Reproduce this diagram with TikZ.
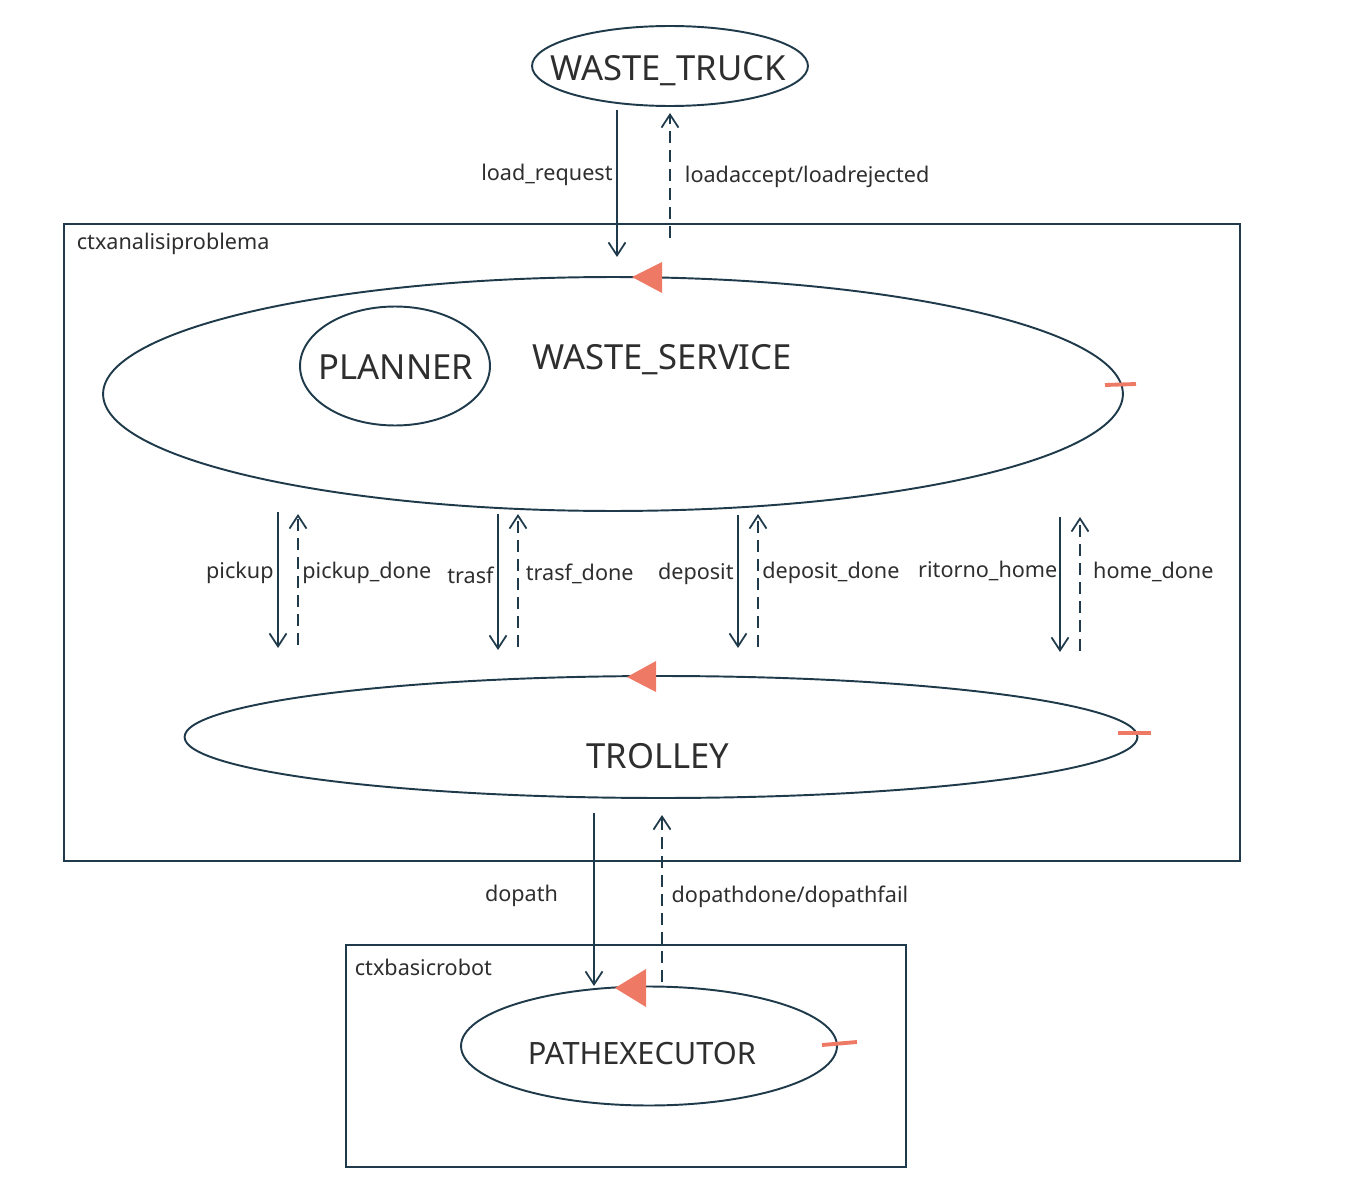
\documentclass[tikz,border=0pt]{standalone}
\usepackage{fontspec}
\setmainfont{Noto Sans}
\usepackage{tikz}
\usetikzlibrary{shapes.geometric}
\usetikzlibrary{arrows.meta}

\definecolor{linecol}{HTML}{1F3A4A}
\definecolor{markcol}{HTML}{EE7A66}
\definecolor{txtcol}{HTML}{2E2E2E}

\tikzset{
	actor/.style={ellipse,draw=linecol,line width=1.1pt,inner sep=0pt},
	ctxbox/.style={rectangle,draw=linecol,line width=1pt,inner sep=0pt},
	bigtxt/.style={text=txtcol,font=\fontsize{19.7}{22}\selectfont},
	smalltxt/.style={text=txtcol,font=\fontsize{12.3}{14}\selectfont,inner sep=2pt},
	msg/.style={draw=linecol,line width=1pt,-{Straight Barb[length=2.6mm,width=3.4mm]}},
	reply/.style={msg,dash pattern=on 6.8pt off 4pt},
	marker/.style={fill=markcol},
	stub/.style={draw=markcol,line width=2.2pt}
}

\begin{document}
\begin{tikzpicture}[x=0.02cm,y=-0.02cm]
				\useasboundingbox (0,0) rectangle (1360,1193);
				
				% contexts
				\node[ctxbox,minimum width=23.52cm,minimum height=12.74cm] (ctxa) at (652,542.5) {};
				\node[smalltxt,anchor=west] (ctxalbl) at (73,244) {ctxanalisiproblema};
				\node[ctxbox,minimum width=11.2cm,minimum height=4.44cm] (ctxb) at (626,1056) {};
				\node[smalltxt,anchor=west] (ctxblbl) at (351,967) {ctxbasicrobot};
				
				% actors
				\node[actor,minimum width=5.52cm,minimum height=1.6cm] (truck) at (670,66) {};
				\node[bigtxt] (trucktxt) at (668,71) {WASTE\_TRUCK};
				\node[actor,minimum width=20.4cm,minimum height=4.68cm] (wservice) at (613,394) {};
				\node[bigtxt] (wservicetxt) at (662,360) {WASTE\_SERVICE};
				\node[actor,minimum width=3.8cm,minimum height=2.38cm] (planner) at (395,366) {};
				\node[bigtxt] (plannertxt) at (396,367) {PLANNER};
				\node[actor,minimum width=19.06cm,minimum height=2.44cm] (trolley) at (661,737) {};
				\node[bigtxt] (trolleytxt) at (658,756) {TROLLEY};
				\node[actor,minimum width=7.52cm,minimum height=2.38cm] (pathexec) at (649,1046) {};
				\node[bigtxt,font=\fontsize{17.5}{20}\selectfont] (pathexectxt) at (642,1053) {PATHEXECUTOR};
				
				% markers
				\fill[marker] (632,277) -- (662,262) -- (662,293) -- cycle;
				\draw[stub] (1105,385) -- (1136,384);
				\fill[marker] (627,677) -- (656,661) -- (656,692) -- cycle;
				\draw[stub] (1118,733) -- (1151,733);
				\fill[marker] (615,988) -- (646,969) -- (646,1007) -- cycle;
				\draw[stub] (822,1045) -- (857,1042);
				
				% message ends
				\coordinate (lr1) at (617,110);   \coordinate (lr2) at (617,257);
				\coordinate (la1) at (670,238);   \coordinate (la2) at (670,113);
				\coordinate (pu1) at (278,512);   \coordinate (pu2) at (278,648);
				\coordinate (pd1) at (298,645);   \coordinate (pd2) at (298,514);
				\coordinate (tr1) at (498,514);   \coordinate (tr2) at (498,650);
				\coordinate (td1) at (518,647);   \coordinate (td2) at (518,514);
				\coordinate (de1) at (738,515);   \coordinate (de2) at (738,648);
				\coordinate (dd1) at (758,647);   \coordinate (dd2) at (758,514);
				\coordinate (rh1) at (1060,517);  \coordinate (rh2) at (1060,652);
				\coordinate (hd1) at (1080,651);  \coordinate (hd2) at (1080,517);
				\coordinate (dp1) at (594,813);   \coordinate (dp2) at (594,986);
				\coordinate (dr1) at (662,982);   \coordinate (dr2) at (662,815);
				
				\begin{scope}[every node/.style={smalltxt}]
					\path (lr1) edge[msg] node[left,pos=0.44] {load\_request} (lr2);
					\path (la1) edge[reply] node[right,pos=0.49,xshift=6pt] {loadaccept/loadrejected} (la2);
					
					\path (pu1) edge[msg] node[left,pos=0.45] {pickup} (pu2);
					\path (pd1) edge[reply] node[right,pos=0.55] {pickup\_done} (pd2);
					\path (tr1) edge[msg] node[left,pos=0.45] {trasf} (tr2);
					\path (td1) edge[reply] node[right,pos=0.55,xshift=2pt] {trasf\_done} (td2);
					\path (de1) edge[msg] node[left,pos=0.44] {deposit} (de2);
					\path (dd1) edge[reply] node[right,pos=0.56] {deposit\_done} (dd2);
					\path (rh1) edge[msg] node[left,pos=0.4,xshift=1pt] {ritorno\_home} (rh2);
					\path (hd1) edge[reply] node[right,pos=0.59,xshift=5pt] {home\_done} (hd2);
					
					\path (dp1) edge[msg] node[left,pos=0.48,xshift=-18pt] {dopath} (dp2);
					\path (dr1) edge[reply] node[right,pos=0.51,xshift=3pt] {dopathdone/dopathfail} (dr2);
				\end{scope}
			\end{tikzpicture}
\end{document}
